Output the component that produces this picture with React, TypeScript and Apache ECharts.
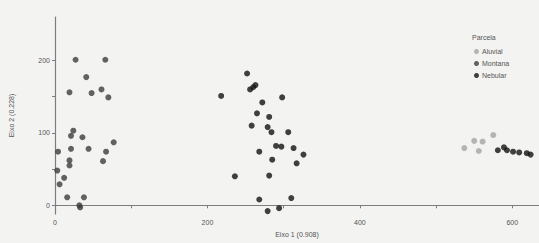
import React, { useEffect, useRef } from "react";
import * as echarts from "echarts";

const seriesNames = ["Aluvial", "Montana", "Nebular"];
const seriesColors = ["#a4a4a4", "#3c3c3c", "#121212"];

const aluvial: [number, number][] = [
  [537, 79], [550, 89], [556, 75], [561, 88], [575, 97],
];

const montana: [number, number][] = [
  [27, 201], [66, 201], [41, 177], [19, 156], [48, 155], [61, 160], [70, 149],
  [24, 103], [21, 96], [36, 94], [77, 87], [21, 78], [44, 78], [4, 74],
  [67, 74], [63, 61], [19, 62], [19, 55], [3, 48], [12, 38], [6, 29],
  [16, 11], [38, 11], [32, 0], [33, -3],
];

const nebular: [number, number][] = [
  [252, 182], [256, 160], [263, 166], [260, 163], [218, 151], [298, 149],
  [272, 142], [265, 127], [281, 122], [258, 110], [279, 108], [284, 101],
  [306, 101], [290, 82], [297, 81], [313, 79], [268, 74], [326, 70],
  [285, 63], [317, 58], [236, 40], [281, 41], [268, 8], [310, 10],
  [294, -4], [279, -8],
  [589, 80], [581, 76], [593, 76], [601, 74], [609, 73], [619, 72], [624, 70],
];

const xTicks = [0, 100, 200, 300, 400, 500, 600];
const xLabels = [0, 200, 400, 600];
const yTicks = [0, 50, 100, 150, 200];
const yLabels = [0, 100, 200];

const xTitle = "Eixo 1 (0.908)";
const yTitle = "Eixo 2 (0.228)";
const legendTitle = "Parcela";

export default function App() {
  const ref = useRef<HTMLDivElement>(null);
  useEffect(() => {
    if (!ref.current) return;
    const chart = echarts.init(ref.current, undefined, { renderer: "svg" });
    const data = [aluvial, montana, nebular];
    const textColor = "#555555";
    chart.setOption({
      animation: false,
      backgroundColor: "#f3f3f1",
      textStyle: { fontFamily: "Liberation Sans, Arial, sans-serif", color: textColor },
      title: {
        text: legendTitle,
        left: 467,
        top: 29,
        textStyle: { fontSize: 7, color: textColor, fontWeight: "normal" },
      },
      legend: {
        orient: "vertical",
        left: 469,
        top: 43,
        itemWidth: 5,
        itemHeight: 5,
        itemGap: 5,
        icon: "circle",
        data: seriesNames,
        textStyle: { fontSize: 7, color: textColor, padding: [0, 0, 0, -2] },
      },
      grid: { left: 54, right: 0, top: 17, bottom: 27 },
      xAxis: {
        type: "value",
        min: 0,
        max: 635,
        name: xTitle,
        nameLocation: "middle",
        nameGap: 17,
        nameTextStyle: { fontSize: 7, color: textColor },
        axisLine: { show: true, lineStyle: { color: "#7d7d7d", width: 1.2 } },
        axisTick: {
          show: true,
          length: 3,
          customValues: xTicks,
          lineStyle: { color: "#7d7d7d" },
        },
        axisLabel: {
          customValues: xLabels,
          fontSize: 7,
          color: textColor,
          margin: 5,
        },
        splitLine: { show: false },
      },
      yAxis: {
        type: "value",
        min: -12,
        max: 260,
        name: yTitle,
        nameLocation: "middle",
        nameGap: 40,
        nameTextStyle: { fontSize: 7, color: textColor },
        axisLine: { show: true, lineStyle: { color: "#7d7d7d", width: 1.2 } },
        axisTick: {
          show: true,
          length: 3,
          customValues: yTicks,
          lineStyle: { color: "#7d7d7d" },
        },
        axisLabel: {
          customValues: yLabels,
          fontSize: 7,
          color: textColor,
          margin: 5,
        },
        splitLine: { show: false },
      },
      series: seriesNames.map((name, i) => ({
        name,
        type: "scatter",
        data: data[i],
        symbolSize: 6,
        itemStyle: { color: seriesColors[i] },
      })),
    });
    return () => chart.dispose();
  }, []);
  return (
    <div
      ref={ref}
      style={{ position: "fixed", left: 0, top: 0, width: 539, height: 243 }}
    />
  );
}
